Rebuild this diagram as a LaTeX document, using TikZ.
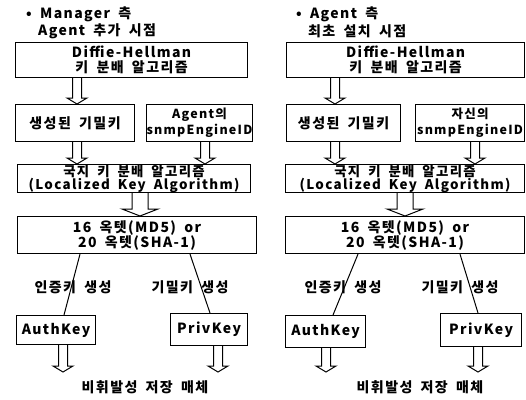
\documentclass[tikz,border=0pt]{standalone}
\usepackage{fontspec}
\setmainfont{Noto Sans CJK KR}[LetterSpace=10, WordSpace=1.8]
\usetikzlibrary{calc}
\begin{document}
\begin{tikzpicture}[x=1pt,y=-1pt,
  every node/.style={font=\fontsize{14}{15}\selectfont\bfseries},
  box/.style={draw, line width=1.1pt, inner sep=0pt, align=center, anchor=north west},
  locfont/.style={font=\fontsize{13.4}{13}\selectfont\bfseries},
  txt/.style={inner sep=0pt, align=center},
  conn/.style={line width=1pt},
  holS/.style={line width=1pt, to path={($(\tikztostart)+(-4.5,0)$) -- ($(\tikztotarget)+(-4.5,-6)$) -- ($(\tikztotarget)+(-10,-6)$) -- (\tikztotarget) -- ($(\tikztotarget)+(10,-6)$) -- ($(\tikztotarget)+(4.5,-6)$) -- ($(\tikztostart)+(4.5,0)$)}},
  holL/.style={line width=1pt, to path={($(\tikztostart)+(-8,0)$) -- ($(\tikztotarget)+(-8,-7)$) -- ($(\tikztotarget)+(-18,-7)$) -- (\tikztotarget) -- ($(\tikztotarget)+(18,-7)$) -- ($(\tikztotarget)+(8,-7)$) -- ($(\tikztostart)+(8,0)$)}}
]
\useasboundingbox (0,0) rectangle (526,399);

% ---------------- left panel ----------------
\node[txt, anchor=west] (tL1) at (26,14) {• Manager 측};
\node[txt, anchor=west] (tL2) at (38,31) {Agent 추가 시점};
\node[box, minimum width=232, minimum height=35] (dhL) at (15,42) {Diffie-Hellman\\키 분배 알고리즘};
\node[box, minimum width=119, minimum height=37] (genL) at (15,104) {생성된 기밀키};
\node[box, minimum width=102, minimum height=37, font=\fontsize{12.5}{16}\selectfont\bfseries] (engL) at (146,104) {Agent의\\snmpEngineID};
\node[box, minimum width=233, minimum height=28, locfont] (locL) at (17,164) {국지 키 분배 알고리즘\\(Localized Key Algorithm)};
\node[box, minimum width=239, minimum height=37] (octL) at (17,216) {16 옥텟(MD5) or\\20 옥텟(SHA-1)};
\node[box, minimum width=79, minimum height=29] (authL) at (16,315) {AuthKey};
\node[box, minimum width=77, minimum height=32] (privL) at (170,313) {PrivKey};
\node[txt] (labAL) at (73,287) {인증키 생성};
\node[txt] (labPL) at (190,287) {기밀키 생성};
\node[txt] (botL) at (145,387) {비휘발성 저장 매체};

\coordinate (aL1) at (77,0);
\coordinate (aL2) at (205,0);
\coordinate (aL3) at (140,0);
\coordinate (lL1) at (80,0);
\coordinate (lL2) at (64,0);
\coordinate (lL3) at (190,0);
\coordinate (lL4) at (210,0);
\coordinate (eL1) at (63,372);
\coordinate (eL2) at (218,372);

\draw[holS] (dhL.south -| aL1) to (genL.north -| aL1);
\draw[holS] (genL.south -| aL1) to (locL.north -| aL1);
\draw[holS] (engL.south -| aL2) to (locL.north -| aL2);
\draw[holL] (locL.south -| aL3) to (octL.north -| aL3);
\draw[conn] (octL.south -| lL1) -- (authL.north -| lL2);
\draw[conn] (octL.south -| lL3) -- (privL.north -| lL4);
\draw[holS] (authL.south -| eL1) to (eL1);
\draw[holS] (privL.south -| eL2) to (eL2);

% ---------------- right panel ----------------
\node[txt, anchor=west] (tR1) at (296,14) {• Agent 측};
\node[txt, anchor=west] (tR2) at (308,31) {최초 설치 시점};
\node[box, minimum width=238, minimum height=35] (dhR) at (286,42) {Diffie-Hellman\\키 분배 알고리즘};
\node[box, minimum width=114, minimum height=37] (genR) at (286,104) {생성된 기밀키};
\node[box, minimum width=109, minimum height=37, font=\fontsize{12.5}{16}\selectfont\bfseries] (engR) at (415,104) {자신의\\snmpEngineID};
\node[box, minimum width=239, minimum height=28, locfont] (locR) at (285,164) {국지 키 분배 알고리즘\\(Localized Key Algorithm)};
\node[box, minimum width=239, minimum height=37] (octR) at (285,216) {16 옥텟(MD5) or\\20 옥텟(SHA-1)};
\node[box, minimum width=80, minimum height=32] (authR) at (285,315) {AuthKey};
\node[box, minimum width=81, minimum height=33] (privR) at (440,313) {PrivKey};
\node[txt] (labAR) at (343,287) {인증키 생성};
\node[txt] (labPR) at (460,287) {기밀키 생성};
\node[txt] (botR) at (420,387) {비휘발성 저장 매체};

\coordinate (aR1) at (335,0);
\coordinate (aR2) at (475,0);
\coordinate (aR3) at (405,0);
\coordinate (lR1) at (358,0);
\coordinate (lR2) at (333,0);
\coordinate (lR3) at (460,0);
\coordinate (lR4) at (478,0);
\coordinate (eR1) at (326,372);
\coordinate (eR2) at (478,372);

\draw[holS] (dhR.south -| aR1) to (genR.north -| aR1);
\draw[holS] (genR.south -| aR1) to (locR.north -| aR1);
\draw[holS] (engR.south -| aR2) to (locR.north -| aR2);
\draw[holL] (locR.south -| aR3) to (octR.north -| aR3);
\draw[conn] (octR.south -| lR1) -- (authR.north -| lR2);
\draw[conn] (octR.south -| lR3) -- (privR.north -| lR4);
\draw[holS] (authR.south -| eR1) to (eR1);
\draw[holS] (privR.south -| eR2) to (eR2);
\end{tikzpicture}
\end{document}
